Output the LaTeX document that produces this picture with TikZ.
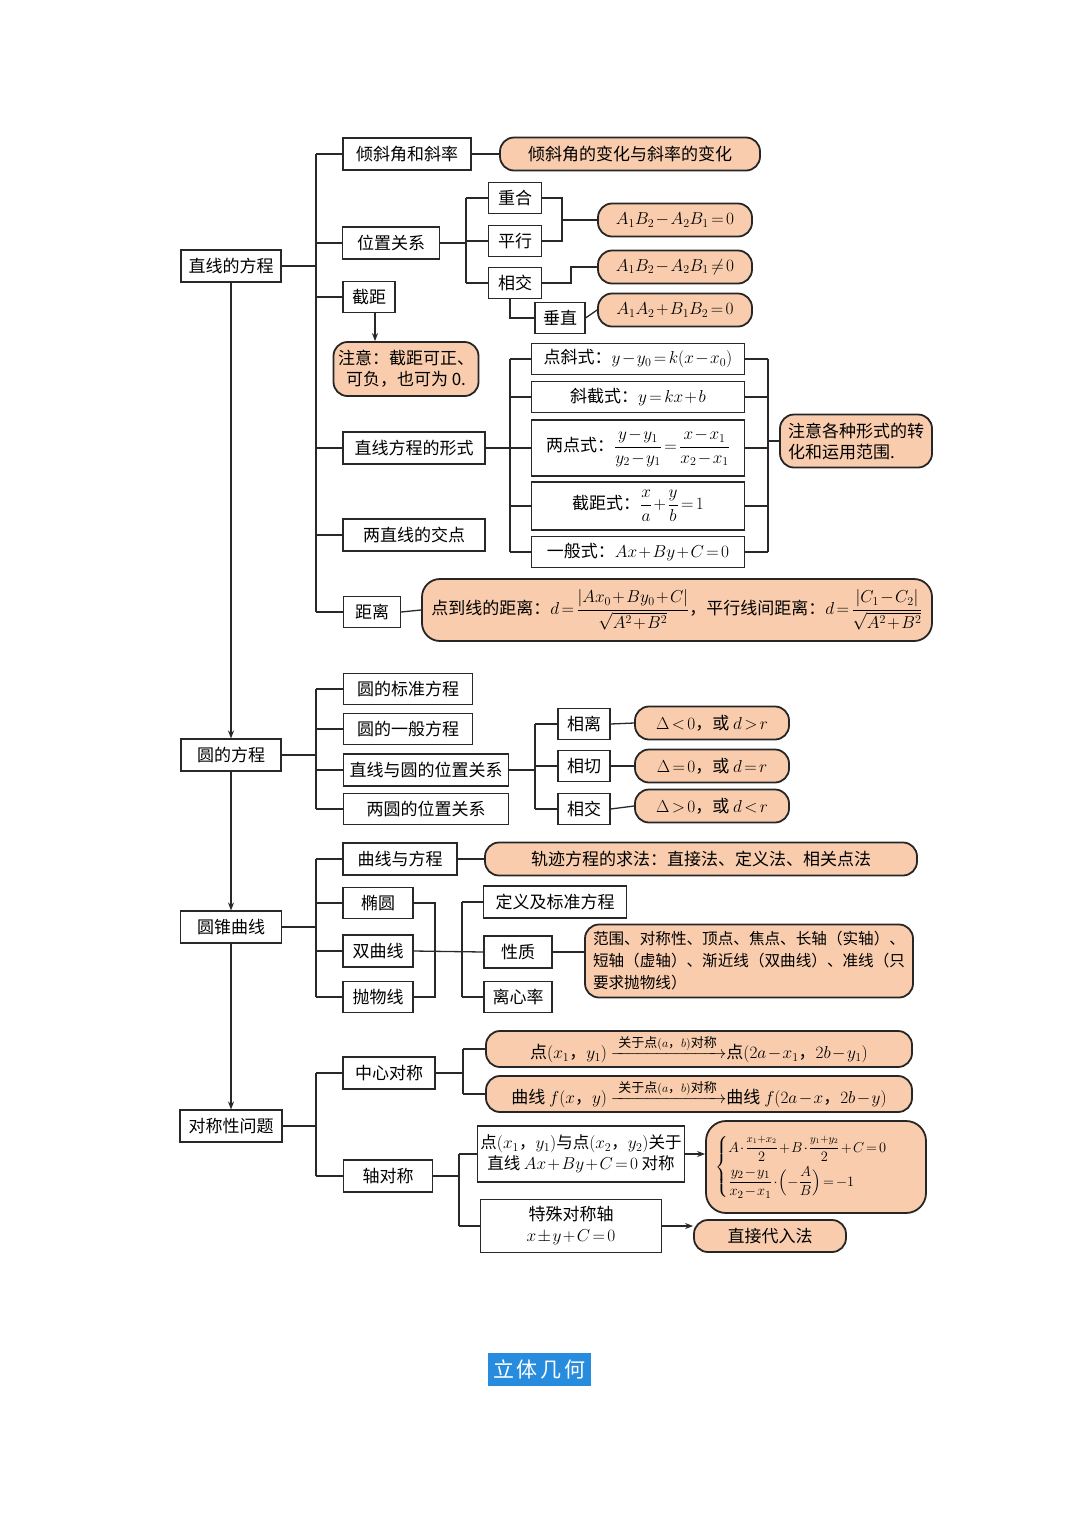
\documentclass[tikz,border=0pt]{standalone}
\usepackage{amsmath}
\usepackage{fontspec}
\setmainfont{Noto Sans CJK SC}
\usepackage{tikz}
\usetikzlibrary{arrows.meta}
\definecolor{peach}{RGB}{248,204,172}
\definecolor{ink}{RGB}{40,40,40}
\definecolor{titleblue}{RGB}{40,140,222}
\medmuskip=1.5mu plus 1mu
\thickmuskip=2.5mu plus 1mu
\newcommand{\aboutpt}{\text{\fontsize{13}{14}\selectfont 关于点$(a\text{，}b)$对称}}
\tikzset{
  box/.style={draw=ink, line width=1.1pt, fill=white, minimum height=32pt, inner sep=3pt, align=center},
  tip/.style={draw=black!85, line width=1.8pt, fill=peach, rounded corners=14pt, minimum height=33pt, inner sep=3pt, align=center},
  link/.style={draw=ink, line width=1.3pt},
  arr/.style={link, -{Stealth[length=8pt,width=6pt]}},
}

\begin{document}
\begin{tikzpicture}[x=1pt, y=-1pt, font=\fontsize{17}{21}\selectfont]
  \useasboundingbox[fill=white] (0,0) rectangle (1080,1527);
  \coordinate (s1) at (316,0);
  \coordinate (s1b) at (466,0);
  \coordinate (s1c) at (510,0);
  \coordinate (s1d) at (768,0);
  \coordinate (br1) at (562,220);
  \coordinate (s2b) at (535,0);
  \coordinate (s3b) at (435,951);
  \coordinate (s3c) at (462,0);
  \coordinate (s4b) at (463,0);
  \coordinate (s4c) at (459,0);

  \node[box, minimum width=100] (zx) at (231,266) {直线的方程};
  \node[box, minimum width=100] (yf) at (231,755) {圆的方程};
  \node[box, minimum width=101] (zq) at (231,927) {圆锥曲线};
  \node[box, minimum width=102] (dc) at (231,1126) {对称性问题};
  \draw[arr] (zx.south) -- (yf.north);
  \draw[arr] (yf.south) -- (zq.north);
  \draw[arr] (zq.south) -- (dc.north);

  \node[box, minimum width=128] (qxj) at (407,154) {倾斜角和斜率};
  \node[tip, minimum width=260] (qxjb) at (630,154) {倾斜角的变化与斜率的变化};
  \node[box, minimum width=97] (wz) at (391,243) {位置关系};
  \node[box, minimum width=53, minimum height=31] (chh) at (515,198) {重合};
  \node[box, minimum width=53, minimum height=31] (px) at (515,241) {平行};
  \node[box, minimum width=53, minimum height=31] (xj) at (515,283) {相交};
  \node[box, minimum width=50, minimum height=31] (cz) at (560,318) {垂直};
  \node[tip, minimum width=154] (o1) at (675,220) {$A_1B_2-A_2B_1=0$};
  \node[tip, minimum width=154] (o2) at (675,267) {$A_1B_2-A_2B_1\neq0$};
  \node[tip, minimum width=154] (o3) at (675,310) {$A_1A_2+B_1B_2=0$};
  \node[box, minimum width=52, minimum height=31] (jj) at (369,297) {截距};
  \node[tip, minimum width=145, minimum height=54] (note) at (406,369) {注意：截距可正、\\可负，也可为 0.};
  \node[box, minimum width=142] (xs) at (414,448) {直线方程的形式};
  \node[box, minimum width=213, minimum height=31] (f1) at (638,359) {点斜式：$y-y_0=k(x-x_0)$};
  \node[box, minimum width=213, minimum height=31] (f2) at (638,397) {斜截式：$y=kx+b$};
  \node[box, minimum width=213, minimum height=56] (f3) at (638,448) {两点式：$\dfrac{y-y_1}{y_2-y_1}=\dfrac{x-x_1}{x_2-x_1}$};
  \node[box, minimum width=213, minimum height=48] (f4) at (638,506) {截距式：$\dfrac{x}{a}+\dfrac{y}{b}=1$};
  \node[box, minimum width=213, minimum height=31] (f5) at (638,552) {一般式：$Ax+By+C=0$};
  \node[tip, minimum width=152, minimum height=53, align=left] (zy) at (856,441) {注意各种形式的转\\化和运用范围.};
  \node[box, minimum width=142] (jd) at (414,535) {两直线的交点};
  \node[box, minimum width=57, minimum height=31] (jl) at (372,612) {距离};
  \node[tip, minimum width=510, minimum height=62, rounded corners=18pt] (jlb) at (677,610) {点到线的距离：$d=\dfrac{|Ax_0+By_0+C|}{\sqrt{A^2+B^2}}$，平行线间距离：$d=\dfrac{|C_1-C_2|}{\sqrt{A^2+B^2}}$};

  \draw[link] (qxj.west -| s1) -- (jl.west -| s1);
  \draw[link] (zx.east) -- (zx.east -| s1);
  \foreach \n in {qxj,wz,jj,xs,jd,jl}
    \draw[link] (\n.west) -- (\n.west -| s1);
  \draw[link] (qxj.east) -- (qxjb.west);
  \draw[link] (wz.east) -- (wz.east -| s1b);
  \draw[link] (chh.west -| s1b) -- (xj.west -| s1b);
  \foreach \n in {chh,px,xj}
    \draw[link] (\n.west) -- (\n.west -| s1b);
  \draw[link] (chh.east) -| (br1) |- (px.east);
  \draw[link] (br1) -- (o1.west);
  \draw[link] (xj.east) -- ++(29,0) |- (o2.west);
  \draw[link] ([xshift=-5]xj.south) |- (cz.west);
  \draw[link] (cz.east) -- (o3.west);
  \draw[arr] ([xshift=6]jj.south) -- ([xshift=6]jj.south |- note.north);
  \draw[link] (xs.east) -- (xs.east -| s1c);
  \draw[link] (f1.west -| s1c) -- (f5.west -| s1c);
  \draw[link] (f1.east -| s1d) -- (f5.east -| s1d);
  \foreach \n in {f1,f2,f3,f4,f5} {
    \draw[link] (\n.west) -- (\n.west -| s1c);
    \draw[link] (\n.east) -- (\n.east -| s1d);
  }
  \draw[link] (zy.west -| s1d) -- (zy.west);
  \draw[link] (jl.east) -- (jlb.west);

  \node[box, minimum width=129, minimum height=31] (c1) at (408,689) {圆的标准方程};
  \node[box, minimum width=129, minimum height=31] (c2) at (408,729) {圆的一般方程};
  \node[box, minimum width=165] (c3) at (426,770) {直线与圆的位置关系};
  \node[box, minimum width=165, minimum height=31] (c4) at (426,809) {两圆的位置关系};
  \node[box, minimum width=52, minimum height=31] (d1) at (584,724) {相离};
  \node[box, minimum width=52, minimum height=31] (d2) at (584,766) {相切};
  \node[box, minimum width=52, minimum height=31] (d3) at (584,809) {相交};
  \node[tip, minimum width=154] (e1) at (712,723) {$\Delta<0$，或 $d>r$};
  \node[tip, minimum width=154] (e2) at (712,766) {$\Delta=0$，或 $d=r$};
  \node[tip, minimum width=154] (e3) at (712,806) {$\Delta>0$，或 $d<r$};

  \draw[link] (c1.west -| s1) -- (c4.west -| s1);
  \draw[link] (yf.east) -- (yf.east -| s1);
  \foreach \n in {c1,c2,c3,c4}
    \draw[link] (\n.west) -- (\n.west -| s1);
  \draw[link] (c3.east) -- (c3.east -| s2b);
  \draw[link] (d1.west -| s2b) -- (d3.west -| s2b);
  \foreach \n/\m in {d1/e1,d2/e2,d3/e3} {
    \draw[link] (\n.west) -- (\n.west -| s2b);
    \draw[link] (\n.east) -- (\m.west);
  }

  \node[box, minimum width=114] (q1) at (400,859) {曲线与方程};
  \node[tip, minimum width=432] (qb) at (701,859) {轨迹方程的求法：直接法、定义法、相关点法};
  \node[box, minimum width=70, minimum height=31] (q2) at (378,903) {椭圆};
  \node[box, minimum width=70] (q3) at (378,951) {双曲线};
  \node[box, minimum width=70, minimum height=31] (q4) at (378,997) {抛物线};
  \node[box, minimum width=143] (r1) at (555,902) {定义及标准方程};
  \node[box, minimum width=68] (r2) at (518,952) {性质};
  \node[box, minimum width=68, minimum height=31] (r3) at (518,997) {离心率};
  \node[tip, minimum width=328, minimum height=73, align=left, font=\fontsize{15.6}{22}\selectfont] (rb) at (749,961) {范围、对称性、顶点、焦点、长轴（实轴）、\\短轴（虚轴）、渐近线（双曲线）、准线（只\\要求抛物线）};

  \draw[link] (q1.west -| s1) -- (q4.west -| s1);
  \draw[link] (zq.east) -- (zq.east -| s1);
  \foreach \n in {q1,q2,q3,q4}
    \draw[link] (\n.west) -- (\n.west -| s1);
  \draw[link] (q1.east) -- (qb.west);
  \draw[link] (q2.east) -| (s3b) |- (q4.east);
  \draw[link] (q3.east) -- (r2.west);
  \draw[link] (r1.west -| s3c) -- (r3.west -| s3c);
  \draw[link] (r1.west) -- (r1.west -| s3c);
  \draw[link] (r3.west) -- (r3.west -| s3c);
  \draw[link] (r2.east) -- (r2.east -| rb.west);

  \node[box, minimum width=92] (z1) at (389,1073) {中心对称};
  \node[box, minimum width=89] (z2) at (388,1176) {轴对称};
  \node[tip, minimum width=426, minimum height=36] (g1) at (699,1049) {点$(x_1\text{，}y_1)$ $\xrightarrow{\hspace{4pt}\aboutpt\hspace{4pt}}$点$(2a-x_1\text{，}2b-y_1)$};
  \node[tip, minimum width=426, minimum height=36] (g2) at (699,1094) {曲线 $f(x\text{，}y)$ $\xrightarrow{\hspace{4pt}\aboutpt\hspace{4pt}}$曲线 $f(2a-x\text{，}2b-y)$};
  \node[box, minimum width=203, minimum height=56, font=\fontsize{16.5}{21}\selectfont] (h1) at (581,1154) {点$(x_1\text{，}y_1)$与点$(x_2\text{，}y_2)$关于\\直线 $Ax+By+C=0$ 对称};
  \node[box, minimum width=181, minimum height=53] (h2) at (571,1226) {特殊对称轴\\$x\pm y+C=0$};
  \node[tip, minimum width=220, minimum height=92, rounded corners=20pt, font=\fontsize{15}{18}\selectfont] (hb1) at (816,1167) {$\begin{cases} A\cdot\dfrac{\scriptstyle x_1+x_2}{2}+B\cdot\dfrac{\scriptstyle y_1+y_2}{2}+C=0\\[8pt] \dfrac{y_2-y_1}{x_2-x_1}\cdot\Bigl(-\dfrac{A}{B}\Bigr)=-1\end{cases}$\hspace{14pt}};
  \node[tip, minimum width=152, minimum height=32] (hb2) at (770,1236) {直接代入法};

  \draw[link] (z1.west -| s1) -- (z2.west -| s1);
  \draw[link] (dc.east) -- (dc.east -| s1);
  \foreach \n in {z1,z2}
    \draw[link] (\n.west) -- (\n.west -| s1);
  \draw[link] (z1.east) -- (z1.east -| s4b);
  \draw[link] (g1.west -| s4b) -- (g2.west -| s4b);
  \foreach \n in {g1,g2}
    \draw[link] (\n.west) -- (\n.west -| s4b);
  \draw[link] (z2.east) -- (z2.east -| s4c);
  \draw[link] (h1.west -| s4c) -- (h2.west -| s4c);
  \foreach \n in {h1,h2}
    \draw[link] (\n.west) -- (\n.west -| s4c);
  \draw[arr] (h1.east) -- (h1.east -| hb1.west);
  \draw[arr] (h2.east) -- (h2.east -| hb2.west);

  \node[fill=titleblue, text=white, minimum width=103, minimum height=33, inner sep=2pt, font=\fontsize{21}{24}\selectfont] (title) at (539.5,1369.5) {立\hspace{3pt}体\hspace{3pt}几\hspace{3pt}何};
\end{tikzpicture}
\end{document}
